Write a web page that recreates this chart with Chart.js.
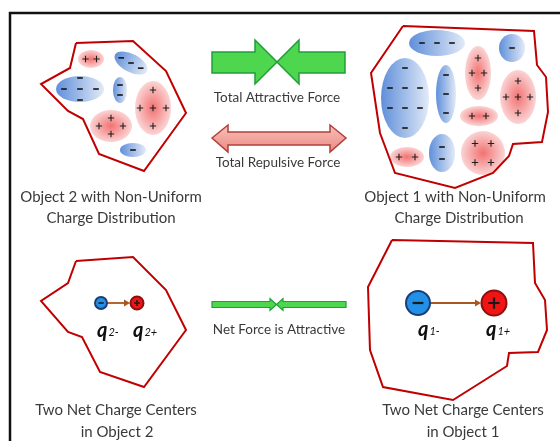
<!DOCTYPE html>
<html>
<head>
<meta charset="utf-8">
<script src="https://cdn.jsdelivr.net/npm/chart.js@4.4.0/dist/chart.umd.min.js"></script>
<style>
  html, body { margin: 0; padding: 0; background: #fff; overflow: hidden; }
  canvas { display: block; }
</style>
</head>
<body>
<canvas id="graph" width="560" height="441"></canvas>
<script>
// picture coordinates, x 0..560 left to right, y 0..441 top to bottom
const frameLine = [[10, 441], [10, 13], [560, 13]];

const object2Outline = [[76, 43], [133, 41], [166, 71], [186, 113], [144, 171], [99, 154], [83, 119], [68, 111], [41, 84], [70, 68], [76, 43]];
const object1Outline = [[403, 26], [534, 31], [537, 65], [546, 77], [548, 112], [542, 142], [513, 144], [509, 156], [493, 173], [455, 188], [395, 173], [380, 133], [371, 73], [403, 26]];
const object2NetOutline = [[76, 261], [133, 257], [166, 290], [186, 330], [144, 387], [100, 372], [82, 337], [68, 332], [41, 301], [68, 283], [76, 261]];
const object1NetOutline = [[392, 240], [533, 243], [535, 283], [545, 300], [547, 330], [538, 352], [509, 353], [507, 366], [453, 400], [383, 387], [370, 350], [368, 287], [392, 240]];

// charge regions: [cx, cy, rx, ry, tilt, sign, signs per row, dx, dy]
const object2Regions = [
  [91, 59, 13, 9, 0, "+", [2], 11, 0],
  [131, 63, 18, 9, 28, "-", [3], 11, 0],
  [80, 89, 24, 13, 0, "-", [1, 3, 1], 16, 11],
  [120, 90, 7, 13, 0, "-", [1, 1], 0, 10],
  [153, 108, 18, 27, 0, "+", [1, 3, 1], 13, 18],
  [111, 126, 21, 16, 0, "+", [1, 2, 1], 24, 8],
  [133, 150, 13, 7, 0, "-", [1], 0, 0],
];
const object1Regions = [
  [437, 43, 28, 13, 0, "-", [3], 15, 0],
  [512, 48, 13, 14, 0, "-", [1], 0, 0],
  [405, 98, 24, 40, 0, "-", [1, 3, 3, 1], 15, 20],
  [446, 94, 10, 29, 0, "-", [1, 1, 1], 0, 19],
  [478, 73, 13, 27, 0, "+", [1, 2, 1], 12, 15],
  [518, 97, 18, 27, 0, "+", [1, 3, 1], 12, 16],
  [479, 116, 19, 10, 0, "+", [2], 14, 0],
  [407, 157, 17, 10, 0, "+", [2], 16, 0],
  [442, 153, 13, 19, 0, "-", [1, 1], 0, 12],
  [483, 153, 22, 22, 0, "+", [2, 2], 16, 19],
];

// force arrows as outlines
const attractLeft = [[212, 52], [255, 52], [255, 40], [277, 62], [255, 84], [255, 73], [212, 73]];
const attractRight = [[345, 52], [299, 52], [299, 40], [277, 62], [299, 84], [299, 73], [345, 73]];
const repulse = [[212, 138], [228, 125], [228, 132], [330, 132], [330, 125], [346, 138], [330, 152], [330, 145], [228, 145], [228, 152]];
const netLeft = [[212, 301.5], [270, 301.5], [270, 298.5], [276.5, 304.5], [270, 310.5], [270, 307.5], [212, 307.5]];
const netRight = [[346, 301.5], [283, 301.5], [283, 298.5], [276.5, 304.5], [283, 310.5], [283, 307.5], [346, 307.5]];

// net charge centres
const chargeX = [101, 137, 418, 494];
const chargeY = [303, 303, 303, 303];
const chargeRadius = [6, 6.5, 12, 12.5];
const chargeSign = ["-", "+", "-", "+"];
const chargeLinks = [[107, 130, 303], [430, 481, 303]];
const chargeNames = [["q", "2-", 97, 337], ["q", "2+", 133, 337], ["q", "1-", 418, 336], ["q", "1+", 486, 336]];

const captions = [
  ["Object 2 with Non-Uniform", 111, 197],
  ["Charge Distribution", 111, 218],
  ["Object 1 with Non-Uniform", 455, 197],
  ["Charge Distribution", 459, 218],
  ["Two Net Charge Centers", 116, 410],
  ["in Object 2", 117, 432],
  ["Two Net Charge Centers", 463, 410],
  ["in Object 1", 463, 432],
];
const forceLabels = [
  ["Total Attractive Force", 277, 98],
  ["Total Repulsive Force", 278, 163],
  ["Net Force is Attractive", 279, 330],
];

const pts = arr => arr.map(p => ({ x: p[0], y: p[1] }));

function outlineSet(arr) {
  return {
    data: pts(arr),
    showLine: true,
    borderColor: "#c00000",
    borderWidth: 2,
    pointRadius: 0,
    fill: false,
    tension: 0,
  };
}

const drawing = {
  id: "drawing",
  beforeDatasetsDraw(chart) {
    const ctx = chart.ctx;
    const X = v => chart.scales.x.getPixelForValue(v);
    const Y = v => chart.scales.y.getPixelForValue(v);

    // outer frame, open to the right and bottom
    ctx.beginPath();
    frameLine.forEach((p, i) => i ? ctx.lineTo(X(p[0]), Y(p[1])) : ctx.moveTo(X(p[0]), Y(p[1])));
    ctx.strokeStyle = "#111";
    ctx.lineWidth = 2.5;
    ctx.stroke();

    // charge regions
    [...object2Regions, ...object1Regions].forEach(r => {
      const [cx, cy, rx, ry, tilt, sign, rows, dx, dy] = r;
      const px = X(cx), py = Y(cy);
      const w = Math.abs(X(cx + rx) - px), h = Math.abs(Y(cy + ry) - py);
      const a = tilt * Math.PI / 180;
      ctx.save();
      ctx.translate(px, py);
      ctx.rotate(a);
      ctx.scale(w, h);
      let g;
      if (sign == "-") {
        g = ctx.createLinearGradient(-1, 0, 1, 0);
        g.addColorStop(0, "#5f8fda");
        g.addColorStop(1, "#e2eaf7");
      } else {
        g = ctx.createRadialGradient(0, 0, 0, 0, 0, 1);
        g.addColorStop(0, "#f27272");
        g.addColorStop(1, "#fbd4d4");
      }
      ctx.beginPath();
      ctx.arc(0, 0, 1, 0, Math.PI * 2);
      ctx.fillStyle = g;
      ctx.fill();
      ctx.restore();

      ctx.strokeStyle = "#1e1e1e";
      rows.forEach((n, i) => {
        const yy = (i - (rows.length - 1) / 2) * dy;
        for (let k = 0; k < n; k++) {
          const xx = (k - (n - 1) / 2) * dx;
          const sx = px + xx * Math.cos(a) - yy * Math.sin(a);
          const sy = py + xx * Math.sin(a) + yy * Math.cos(a);
          ctx.beginPath();
          if (sign == "+") {
            ctx.lineWidth = 1.1;
            ctx.moveTo(sx - 3.2, sy);
            ctx.lineTo(sx + 3.2, sy);
            ctx.moveTo(sx, sy - 3.2);
            ctx.lineTo(sx, sy + 3.2);
          } else {
            ctx.lineWidth = 1.7;
            ctx.moveTo(sx - 2.8, sy);
            ctx.lineTo(sx + 2.8, sy);
          }
          ctx.stroke();
        }
      });
    });

    // force arrows
    const shape = (arr, fill, stroke, lw) => {
      ctx.beginPath();
      arr.forEach((p, i) => i ? ctx.lineTo(X(p[0]), Y(p[1])) : ctx.moveTo(X(p[0]), Y(p[1])));
      ctx.closePath();
      ctx.fillStyle = fill;
      ctx.fill();
      ctx.lineWidth = lw;
      ctx.strokeStyle = stroke;
      ctx.stroke();
    };
    shape(attractLeft, "#4fd64f", "#1f9e3a", 1.5);
    shape(attractRight, "#4fd64f", "#1f9e3a", 1.5);
    const rg = ctx.createLinearGradient(0, Y(125), 0, Y(152));
    rg.addColorStop(0, "#f7c0bb");
    rg.addColorStop(1, "#ec8a82");
    shape(repulse, rg, "#b0403a", 1.5);
    shape(netLeft, "#4fd64f", "#1f9e3a", 1.2);
    shape(netRight, "#4fd64f", "#1f9e3a", 1.2);

    // links between net charges
    ctx.strokeStyle = "#a8571f";
    ctx.fillStyle = "#a8571f";
    ctx.lineWidth = 1.8;
    chargeLinks.forEach(([x1, x2, y]) => {
      ctx.beginPath();
      ctx.moveTo(X(x1), Y(y));
      ctx.lineTo(X(x2) - 5, Y(y));
      ctx.stroke();
      ctx.beginPath();
      ctx.moveTo(X(x2), Y(y));
      ctx.lineTo(X(x2) - 6, Y(y) - 3.5);
      ctx.lineTo(X(x2) - 6, Y(y) + 3.5);
      ctx.closePath();
      ctx.fill();
    });
  },
  afterDatasetsDraw(chart) {
    const ctx = chart.ctx;
    const X = v => chart.scales.x.getPixelForValue(v);
    const Y = v => chart.scales.y.getPixelForValue(v);

    // signs inside net charges
    ctx.strokeStyle = "#1a1a1a";
    chargeX.forEach((x, i) => {
      const s = chargeRadius[i] * 0.45;
      ctx.lineWidth = chargeRadius[i] > 9 ? 2.2 : 1.5;
      ctx.beginPath();
      ctx.moveTo(X(x) - s, Y(chargeY[i]));
      ctx.lineTo(X(x) + s, Y(chargeY[i]));
      if (chargeSign[i] == "+") {
        ctx.moveTo(X(x), Y(chargeY[i]) - s);
        ctx.lineTo(X(x), Y(chargeY[i]) + s);
      }
      ctx.stroke();
    });

    // charge names
    ctx.fillStyle = "#111";
    ctx.textBaseline = "alphabetic";
    ctx.textAlign = "left";
    chargeNames.forEach(([q, sub, x, y]) => {
      ctx.font = "bold italic 20px Lato";
      ctx.fillText(q, X(x), Y(y));
      const w = ctx.measureText(q).width;
      ctx.font = "italic 11px Lato";
      ctx.fillText(sub, X(x) + w + 1, Y(y) - 1);
    });

    // captions
    ctx.fillStyle = "#3a3a3a";
    ctx.textAlign = "center";
    ctx.textBaseline = "middle";
    ctx.font = "15px Lato";
    captions.forEach(([t, x, y]) => ctx.fillText(t, X(x), Y(y)));
    ctx.font = "13.5px Lato";
    forceLabels.forEach(([t, x, y]) => ctx.fillText(t, X(x), Y(y)));
  },
};

new Chart(document.getElementById("graph").getContext("2d"), {
  type: "scatter",
  data: {
    datasets: [
      outlineSet(object2Outline),
      outlineSet(object1Outline),
      outlineSet(object2NetOutline),
      outlineSet(object1NetOutline),
      {
        data: chargeX.map((x, i) => ({ x: x, y: chargeY[i] })),
        pointRadius: chargeRadius,
        backgroundColor: ["#2290e6", "#f01414", "#2290e6", "#f01414"],
        borderColor: ["#1c3c78", "#8a1010", "#1c3c78", "#8a1010"],
        borderWidth: 2,
      },
    ],
  },
  options: {
    responsive: false,
    animation: false,
    layout: { padding: 0, autoPadding: false },
    scales: {
      x: { type: "linear", min: 0, max: 560, display: false },
      y: { type: "linear", min: 0, max: 441, reverse: true, display: false },
    },
    plugins: {
      legend: { display: false },
      tooltip: { enabled: false },
    },
  },
  plugins: [drawing],
});
</script>
</body>
</html>
